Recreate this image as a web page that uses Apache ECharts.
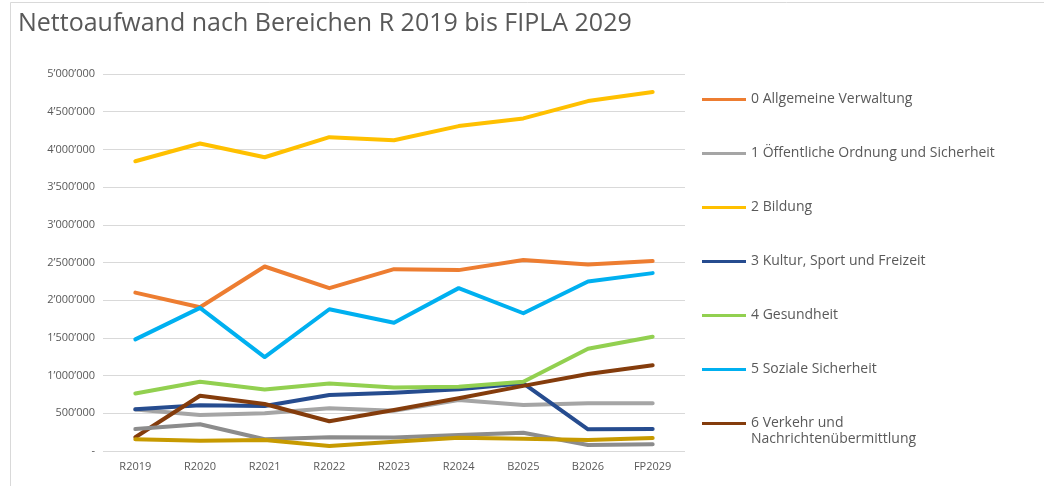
<!DOCTYPE html>
<html>
<head>
<meta charset="utf-8">
<script src="https://cdn.jsdelivr.net/npm/echarts@6/dist/echarts.min.js"></script>
<style>
  html, body { margin: 0; padding: 0; background: #fff; }
  #chart { width: 1044px; height: 486px; }
</style>
</head>
<body>
<div id="chart"></div>
<script>
// Kategorien (x-Achse)
const categories = ["R2019", "R2020", "R2021", "R2022", "R2023", "R2024", "B2025", "B2026", "FP2029"];

// Bereiche
const names = [
  "0 Allgemeine Verwaltung",
  "1 Öffentliche Ordnung und Sicherheit",
  "2 Bildung",
  "3 Kultur, Sport und Freizeit",
  "4 Gesundheit",
  "5 Soziale Sicherheit",
  "6 Verkehr und Nachrichtenübermittlung",
  "8 Volkswirtschaft",
  "9 Finanzen und Steuern"
];

// Werte je Bereich
const verwaltung = [2101000, 1907000, 2447000, 2160000, 2412000, 2399000, 2532000, 2473000, 2519000];
const sicherheit = [550000, 477000, 500000, 566000, 535000, 676000, 610000, 633000, 633000];
const bildung = [3843000, 4078000, 3896000, 4162000, 4122000, 4309000, 4411000, 4641000, 4761000];
const kultur = [553000, 606000, 597000, 743000, 773000, 818000, 898000, 288000, 292000];
const gesundheit = [763000, 918000, 816000, 896000, 843000, 851000, 918000, 1356000, 1516000];
const sozial = [1481000, 1898000, 1246000, 1880000, 1702000, 2160000, 1827000, 2247000, 2359000];
const verkehr = [182000, 733000, 623000, 394000, 544000, 699000, 864000, 1020000, 1136000];
const volkswirtschaft = [292000, 354000, 155000, 182000, 180000, 212000, 243000, 80000, 89000];
const finanzen = [155000, 137000, 145000, 66000, 123000, 176000, 163000, 145000, 172000];

// y-Achse
const yMax = 5000000;
const yStep = 500000;

const seriesValues = [verwaltung, sicherheit, bildung, kultur, gesundheit, sozial, verkehr, volkswirtschaft, finanzen];
const colors = ["#ED7D31", "#A5A5A5", "#FFC000", "#264C8F", "#92D050", "#00B0F0", "#843C0C", "#8C8C8C", "#C79A00"];

const fontFamily = "'Open Sans', sans-serif";

function fmt(v) {
  if (v === 0) return "-";
  return String(v).replace(/\B(?=(\d{3})+(?!\d))/g, "\u2019");
}

const chart = echarts.init(document.getElementById("chart"));

chart.setOption({
  backgroundColor: "#fff",
  animation: false,
  title: {
    text: "Nettoaufwand nach Bereichen R 2019 bis FIPLA 2029",
    left: 13,
    top: 6,
    textStyle: { fontFamily, fontSize: 25, fontWeight: "normal", color: "#595959" }
  },
  graphic: [
    {
      type: "rect",
      shape: { x: 10.5, y: 2.5, width: 1100, height: 600 },
      style: { fill: "none", stroke: "#d9d9d9", lineWidth: 1 },
      silent: true
    },
    // zweite Zeile des letzten Legendeneintrags
    {
      type: "text",
      left: 751,
      top: 432,
      style: { text: "Nachrichtenübermittlung", fontFamily, fontSize: 14, fill: "#595959" },
      silent: true
    }
  ],
  legend: {
    orient: "vertical",
    left: 702,
    top: 90,
    height: 460,
    padding: 0,
    itemWidth: 44,
    itemHeight: 14,
    itemGap: 35,
    icon: "path://M0,6 L44,6 L44,9 L0,9 Z",
    data: names.slice(0, 7),
    formatter: (n) => n === names[6] ? "6 Verkehr und" : n,
    textStyle: { fontFamily, fontSize: 14, color: "#595959", lineHeight: 19 }
  },
  grid: { left: 103, right: 359, top: 74, bottom: 35 },
  xAxis: {
    type: "category",
    data: categories,
    axisLine: { show: false },
    axisTick: { show: false },
    axisLabel: { fontFamily, fontSize: 11, color: "#595959", margin: 10 }
  },
  yAxis: {
    type: "value",
    min: 0,
    max: yMax,
    interval: yStep,
    axisLabel: { fontFamily, fontSize: 11, color: "#595959", formatter: fmt, margin: 8 },
    splitLine: { lineStyle: { color: "#d9d9d9", width: 1 } }
  },
  series: seriesValues.map((vals, i) => ({
    name: names[i],
    type: "line",
    data: vals,
    symbol: "none",
    color: colors[i],
    lineStyle: { width: 4, color: colors[i], cap: "round", join: "round" }
  }))
});
</script>
</body>
</html>
